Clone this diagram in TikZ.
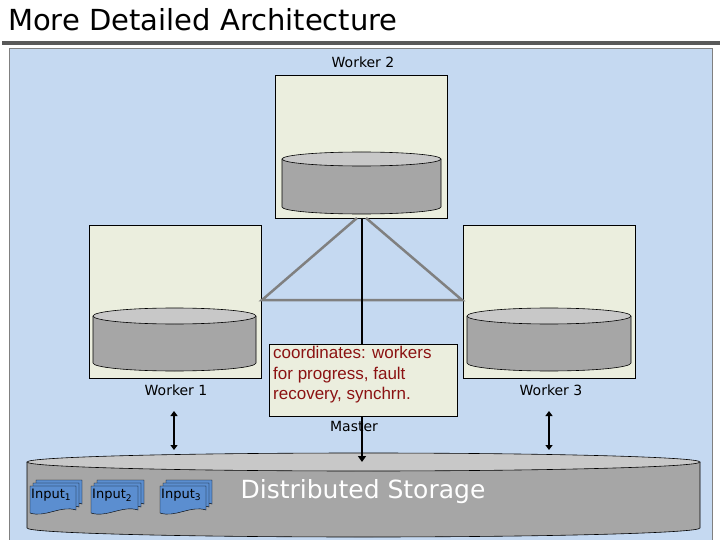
\documentclass[tikz,border=0pt]{standalone}
\usepackage{fontspec}
\setmainfont{DejaVu Sans}
\newfontfamily\arialf{Liberation Sans}
\usetikzlibrary{arrows.meta}
\definecolor{bgblue}{HTML}{C5D9F1}
\definecolor{boxfill}{HTML}{EBEEDE}
\definecolor{cylside}{HTML}{A6A6A6}
\definecolor{cyltop}{HTML}{C8C8C8}
\definecolor{docblue}{HTML}{5B8ED0}
\definecolor{darkred}{HTML}{8B1212}
\tikzset{
 wbox/.style={draw=black,fill=boxfill,line width=0.6pt},
 lbl/.style={font=\fontsize{14}{17}\selectfont},
 dbl/.style={line width=1.6pt,{Triangle[length=5pt,width=7pt]}-{Triangle[length=5pt,width=7pt]}},
 doc/.style={draw=black,fill=docblue,line width=0.4pt}
}
\newcommand{\cyl}[5]{% x1 x2 ytop ybot ry
 \fill[cylside] (#1,#3) -- (#1,#4) arc[start angle=180,end angle=0,x radius={(#2-#1)/2},y radius=#5] -- (#2,#3) -- cycle;
 \draw[line width=0.6pt] (#1,#3) -- (#1,#4) arc[start angle=180,end angle=0,x radius={(#2-#1)/2},y radius=#5] -- (#2,#3);
 \draw[line width=0.6pt,fill=cyltop] ({(#1+#2)/2},#3) ellipse[x radius={(#2-#1)/2},y radius=#5];
}
\newcommand{\docstack}[4]{% x y w label
 \foreach \d in {2,1,0}{
  \draw[doc] ({#1+3*\d},{#2-3*\d}) -- ++(#3,0) -- ++(0,24) .. controls +(-#3/3,-5) and +(#3/3,5) .. ++(-#3,3) -- cycle;}
 \node[anchor=west,inner sep=1pt,font=\fontsize{13}{15}\selectfont] at (#1,{#2+9}) {#4};
}
\begin{document}
\begin{tikzpicture}[x=1pt,y=-1pt]
\useasboundingbox (0,0) rectangle (720,540);
\node[anchor=west,font=\fontsize{29}{34}\selectfont,inner sep=0] (title) at (8,20) {More Detailed Architecture};
\draw[line width=4pt,color=black!65] (2,43) -- (720,43);
\draw[fill=bgblue,draw=black!50] (9,48) rectangle (712,545);
% worker boxes
\node[wbox,minimum width=172pt,minimum height=143pt,inner sep=0] (w2) at (361,146.5) {};
\node[wbox,minimum width=172pt,minimum height=153pt,inner sep=0] (w1) at (175,301.5) {};
\node[wbox,minimum width=172pt,minimum height=153pt,inner sep=0] (w3) at (549,301.5) {};
\cyl{282}{441}{159}{207}{7}
\cyl{93}{256}{316}{363}{8}
\cyl{467}{631}{316}{363}{8}
\node[lbl] (l2) at (363,62) {Worker 2};
\node[lbl] (l1) at (176,390) {Worker 1};
\node[lbl] (l3) at (551,390) {Worker 3};
% connections
\coordinate (tl) at (357,218);
\coordinate (tr) at (366,218);
\coordinate (bl) at (262,300);
\coordinate (br) at (462,300);
\draw[line width=2.5pt,color=black!50] (tl) -- (bl) -- (br) -- (tr);
\draw[line width=1.6pt] (362,218) -- (362,346);
% storage
\cyl{27}{700}{462}{528}{9}
\node[font=\fontsize{25}{30}\selectfont,text=white] (ds) at (363,492) {Distributed Storage};
\node[wbox,minimum width=188pt,minimum height=72pt,inner sep=0] (m) at (363,380) {};
\node[align=left,text=darkred,font=\arialf\fontsize{17}{20.5}\selectfont,anchor=north west,inner sep=0] (mt) at (273,346) {coordinates: workers\\for progress, fault\\recovery, synchrn.};
\node[lbl] (ml) at (354,426) {Master};
\draw[line width=1.6pt,-{Triangle[length=6pt,width=8pt]}] (362,416) -- (362,462);
\coordinate (a1t) at (174,411); \coordinate (a1b) at (174,450);
\coordinate (a3t) at (549,411); \coordinate (a3b) at (549,450);
\draw[dbl] (a1t) -- (a1b);
\draw[dbl] (a3t) -- (a3b);
\docstack{30}{486}{46}{Input\textsubscript{1}}
\docstack{91}{486}{47}{Input\textsubscript{2}}
\docstack{160}{486}{46}{Input\textsubscript{3}}
\end{tikzpicture}
\end{document}
